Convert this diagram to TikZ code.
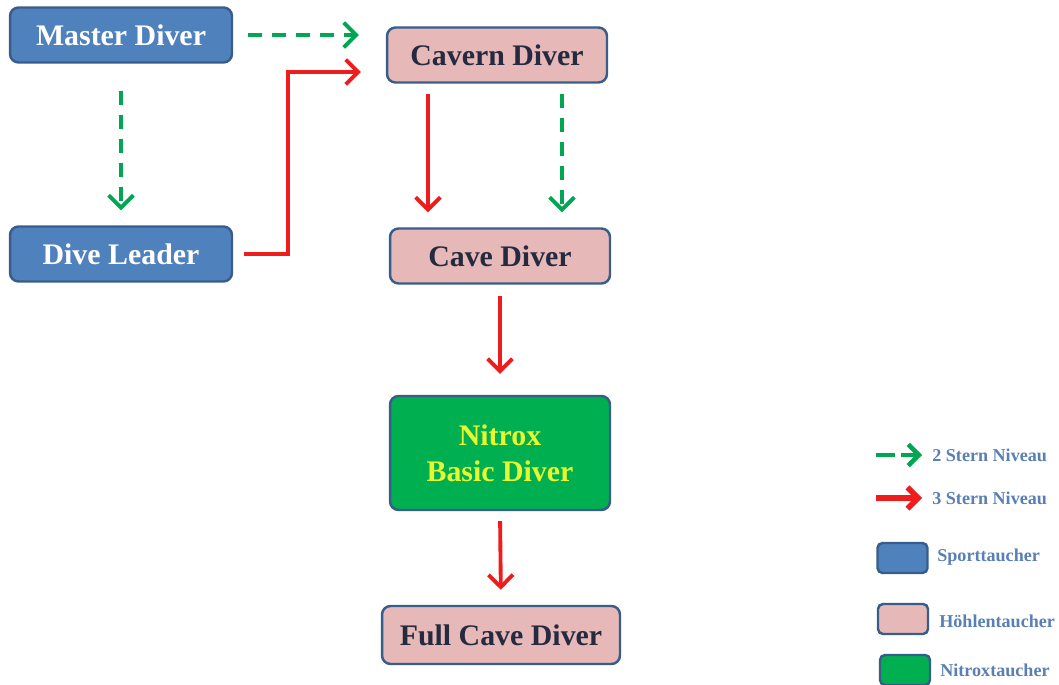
\documentclass[tikz,border=0pt]{standalone}
\usepackage{fontspec}
\setmainfont{Liberation Serif}
\usetikzlibrary{arrows.meta}
\definecolor{sportblue}{HTML}{4F81BD}
\definecolor{boxline}{HTML}{385D8A}
\definecolor{cavepink}{HTML}{E6B9B8}
\definecolor{nitroxgreen}{HTML}{00B050}
\definecolor{arrowgreen}{HTML}{00A651}
\definecolor{arrowred}{HTML}{EE1C1C}
\definecolor{darktext}{HTML}{262A40}
\definecolor{nitroxtext}{HTML}{E8F830}
\definecolor{legendtext}{HTML}{5A7FB5}
\begin{document}
\begin{tikzpicture}[x=0.02cm,y=-0.02cm,
	level/.style={draw=boxline,line width=1.4pt,rounded corners=0.17cm,minimum height=1.1cm,
		font=\fontsize{17}{20.5}\selectfont\bfseries,align=center},
	sport/.style={level,fill=sportblue,text=white,minimum width=4.44cm},
	cave/.style={level,fill=cavepink,text=darktext,minimum width=4.4cm},
	nitrox/.style={level,fill=nitroxgreen,text=nitroxtext,minimum width=4.4cm,minimum height=2.28cm},
	two/.style={draw=arrowgreen,line width=2.2pt,dash pattern=on 0.28cm off 0.2cm,
		-{Straight Barb[length=7pt,width=14pt,line width=2.2pt]},shorten <=0.3cm,shorten >=0.3cm},
	three/.style={draw=arrowred,line width=2.2pt,
		-{Straight Barb[length=7pt,width=14pt,line width=2.2pt]},shorten <=0.22cm,shorten >=0.3cm},
	keybox/.style={draw=boxline,line width=1.4pt,rounded corners=0.1cm,minimum width=1cm,minimum height=0.6cm},
	keytext/.style={anchor=west,inner sep=0pt,text=legendtext,font=\fontsize{10.3}{12}\selectfont\bfseries}]
	\useasboundingbox (0,0) rectangle (1059,685);
	%levels
		\node[sport] (master) at (121,35) {Master Diver};
		\node[sport] (leader) at (121,254) {Dive Leader};
		\node[cave] (cavern) at (497,55) {Cavern Diver};
		\node[cave] (cavediver) at (500,256) {Cave Diver};
		\node[nitrox] (basic) at (500,453) {Nitrox\\Basic Diver};
		\node[cave,minimum width=4.76cm,minimum height=1.16cm] (full) at (501,635) {Full Cave Diver};
	%2 star paths
		\draw[two,shorten >=0.54cm] (master.east) -- (master.east -| cavern.west);
		\draw[two,shorten <=0.54cm] (master.south) -- (leader.north);
		\draw[two,shorten <=0.2cm] ([xshift=1.3cm]cavern.south) -- ([xshift=1.3cm]cavern.south |- cavediver.north);
	%3 star paths
		\draw[three,shorten >=0.5cm] (leader.east) -- ++(55,0) |- ([yshift=-0.34cm]cavern.west);
		\draw[three,shorten <=0.2cm] ([xshift=-1.38cm]cavern.south) -- ([xshift=-1.38cm]cavern.south |- cavediver.north);
		\draw[three,shorten >=0.42cm] (cavediver.south) -- (basic.north);
		\draw[three,shorten <=0.2cm] (basic.south) -- (full.north);
	%legend
		\coordinate (twoa) at (876,455);
		\coordinate (twob) at (922,455);
		\coordinate (threea) at (876,498);
		\coordinate (threeb) at (922,498);
		\draw[two,shorten <=0pt,shorten >=0pt,dash pattern=on 0.38cm off 0.12cm,
			-{Straight Barb[length=6pt,width=12pt,line width=2.6pt]},line width=2.6pt] (twoa) -- (twob);
		\draw[three,shorten <=0pt,shorten >=0pt,line width=3.2pt,
			-{Straight Barb[length=6pt,width=12pt,line width=3.2pt]}] (threea) -- (threeb);
		\node[keytext] (twotext) at (932,455) {2 Stern Niveau};
		\node[keytext] (threetext) at (932,498) {3 Stern Niveau};
		\node[keybox,fill=sportblue] (sportkey) at (902.5,558) {};
		\node[keybox,fill=cavepink] (cavekey) at (903,619) {};
		\node[keybox,fill=nitroxgreen] (nitroxkey) at (905,670) {};
		\node[keytext] (sporttext) at (937,557) {Sporttaucher};
		\node[keytext] (cavetext) at (939,621) {Höhlentaucher};
		\node[keytext] (nitroxtext) at (940,670) {Nitroxtaucher};
\end{tikzpicture}
\end{document}
